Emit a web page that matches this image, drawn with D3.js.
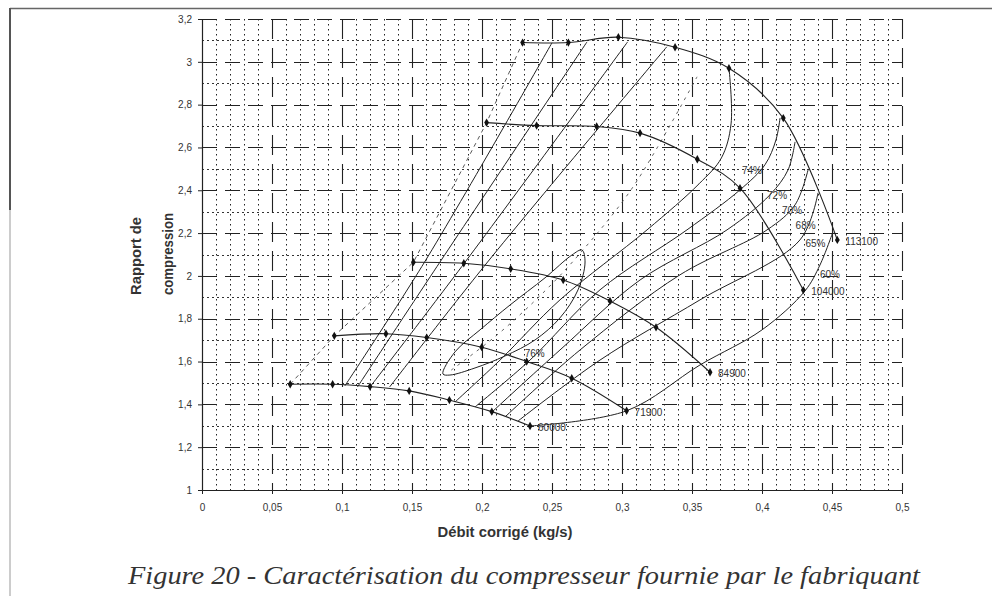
<!DOCTYPE html>
<meta charset="utf-8">
<script src="https://d3js.org/d3.v7.min.js"></script>
<style>
  body { margin: 0; background: #fff; }
  text { font-family: "Liberation Sans", Arial, sans-serif; fill: #333; }
</style>
<svg id="chart" width="992" height="596"></svg>
<script>
// ticks
const xTicks = [0, 0.05, 0.1, 0.15, 0.2, 0.25, 0.3, 0.35, 0.4, 0.45, 0.5];
const xTickLabels = ["0", "0,05", "0,1", "0,15", "0,2", "0,25", "0,3", "0,35", "0,4", "0,45", "0,5"];
const yTicks = [1, 1.2, 1.4, 1.6, 1.8, 2, 2.2, 2.4, 2.6, 2.8, 3, 3.2];
const yTickLabels = ["1", "1,2", "1,4", "1,6", "1,8", "2", "2,2", "2,4", "2,6", "2,8", "3", "3,2"];

// iso-speed lines [debit, rapport]
const speedNames = ["60000", "71900", "84900", "104000", "113100"];
const speed60000 = [[0.063, 1.494], [0.0933, 1.494], [0.12, 1.483], [0.148, 1.463], [0.1767, 1.42], [0.207, 1.366], [0.2343, 1.299]];
const speed71900 = [[0.0945, 1.72], [0.1314, 1.73], [0.1605, 1.712], [0.1998, 1.667], [0.2319, 1.6], [0.2641, 1.522], [0.3033, 1.37]];
const speed84900 = [[0.151, 2.064], [0.187, 2.059], [0.2205, 2.033], [0.258, 1.981], [0.2914, 1.883], [0.3243, 1.76], [0.3629, 1.55]];
const speed104000 = [[0.2033, 2.716], [0.239, 2.702], [0.2819, 2.698], [0.3129, 2.667], [0.3538, 2.545], [0.3843, 2.41], [0.4295, 1.934]];
const speed113100 = [[0.229, 3.09], [0.2617, 3.09], [0.2974, 3.115], [0.3379, 3.068], [0.3764, 2.97], [0.4152, 2.737], [0.4538, 2.168]];
const speedLines = [speed60000, speed71900, speed84900, speed104000, speed113100];

// surge line (dashed), through the first point of each speed line
const surge = [[0.063, 1.494], [0.0945, 1.72], [0.151, 2.064], [0.2033, 2.716], [0.229, 3.09]];
// dashed line through the best-efficiency island
const ridge = [[0.178, 1.56], [0.21, 1.72], [0.245, 1.93], [0.2721, 2.121], [0.3079, 2.416], [0.3536, 2.93]];

// efficiency contours
const eff76 = [[0.1721, 1.542], [0.1807, 1.645], [0.1986, 1.748], [0.22, 1.864], [0.245, 1.991], [0.2643, 2.098], [0.2714, 2.121],
  [0.2736, 2.065], [0.2686, 1.935], [0.2557, 1.804], [0.2379, 1.701], [0.2164, 1.626], [0.195, 1.57], [0.1771, 1.537]];
// left branches, from 60000 line up to 113100 line
const leftBranches = [
  [[0.102, 1.486], [0.159, 2.065], [0.25, 3.089]],
  [[0.111, 1.481], [0.17, 2.065], [0.275, 3.093]],
  [[0.12, 1.481], [0.188, 2.065], [0.304, 3.093]],
  [[0.134, 1.481], [0.204, 2.065], [0.332, 3.07]]
];
// right branches
const effNames = ["74%", "72%", "70%", "68%", "65%", "60%"];
const eff74 = [[0.1807, 1.411], [0.2129, 1.607], [0.2557, 1.888], [0.3179, 2.215], [0.355, 2.43], [0.371, 2.551], [0.3779, 2.71], [0.3764, 2.972]];
const eff72 = [[0.195, 1.388], [0.2343, 1.607], [0.2843, 1.935], [0.3464, 2.215], [0.3843, 2.402], [0.4021, 2.519], [0.41, 2.636], [0.4129, 2.738]];
const eff70 = [[0.2071, 1.364], [0.2557, 1.654], [0.3129, 1.981], [0.375, 2.215], [0.4057, 2.379], [0.4186, 2.495], [0.4236, 2.626]];
const eff68 = [[0.2164, 1.341], [0.27, 1.654], [0.3414, 2.005], [0.4036, 2.215], [0.4236, 2.332], [0.4329, 2.495]];
const eff65 = [[0.2257, 1.322], [0.2843, 1.607], [0.3557, 1.888], [0.4271, 2.168], [0.44, 2.388]];
const eff60 = [[0.2343, 1.299], [0.3033, 1.37], [0.3557, 1.584], [0.4, 1.748], [0.4307, 1.93], [0.4414, 2.051], [0.4507, 2.206]];
const rightBranches = [eff74, eff72, eff70, eff68, eff65, eff60];
// label anchor points for efficiencies
const effLabelPos = [[0.3857, 2.474], [0.4036, 2.36], [0.4143, 2.29], [0.424, 2.22], [0.431, 2.136], [0.4414, 1.99]];

const svg = d3.select("#chart");
const x = d3.scaleLinear().domain([0, 0.5]).range([202, 902]);
const y = d3.scaleLinear().domain([1, 3.2]).range([490, 19]);
const cx = d => Math.round(x(d)) + 0.5;
const cy = d => Math.round(y(d)) + 0.5;

// page frame
svg.append("line").attr("x1", 10).attr("x2", 992).attr("y1", 8.5).attr("y2", 8.5)
  .attr("stroke", "#666").attr("stroke-width", 1.5);
svg.append("line").attr("x1", 10).attr("x2", 10).attr("y1", 8).attr("y2", 210)
  .attr("stroke", "#555").attr("stroke-width", 2);
svg.append("line").attr("x1", 10).attr("x2", 10).attr("y1", 210).attr("y2", 596)
  .attr("stroke", "#999").attr("stroke-width", 1);

// grid
const grid = svg.append("g");
const minorX = d3.range(1, 50).filter(i => i % 5).map(i => i / 100);
const minorY = d3.range(11, 32, 2).map(i => i / 10);
grid.selectAll(".mx").data(minorX).join("line")
  .attr("x1", cx).attr("x2", cx).attr("y1", y(3.2)).attr("y2", y(1))
  .attr("stroke", "#222").attr("stroke-width", 1).attr("stroke-dasharray", "1.5,3.5");
grid.selectAll(".my").data(minorY).join("line")
  .attr("x1", x(0)).attr("x2", x(0.5)).attr("y1", cy).attr("y2", cy)
  .attr("stroke", "#333").attr("stroke-width", 1).attr("stroke-dasharray", "2,3");
grid.selectAll(".Mx").data(xTicks.slice(1)).join("line")
  .attr("x1", cx).attr("x2", cx).attr("y1", y(3.2)).attr("y2", y(1))
  .attr("stroke", "#222").attr("stroke-width", 1.1).attr("stroke-dasharray", "20,9");
grid.selectAll(".My").data(yTicks.slice(1)).join("line")
  .attr("x1", x(0)).attr("x2", x(0.5)).attr("y1", cy).attr("y2", cy)
  .attr("stroke", "#222").attr("stroke-width", 1.1).attr("stroke-dasharray", "15,8");

// axes
const xAxis = svg.append("g").attr("transform", `translate(0,${y(1)})`)
  .call(d3.axisBottom(x).tickValues(xTicks).tickFormat((d, i) => xTickLabels[i]).tickSize(4).tickSizeOuter(0).tickPadding(10));
const yAxis = svg.append("g").attr("transform", `translate(${x(0)},0)`)
  .call(d3.axisLeft(y).tickValues(yTicks).tickFormat((d, i) => yTickLabels[i]).tickSize(4).tickSizeOuter(0).tickPadding(6));
[xAxis, yAxis].forEach(a => {
  a.select(".domain").attr("stroke", "#222").attr("stroke-width", 1.2);
  a.selectAll(".tick line").attr("stroke", "#222");
  a.selectAll("text").style("font-size", "10px").attr("fill", "#444").style("font-family", "'Liberation Sans', Arial, sans-serif");
});

const line = d3.line().x(d => x(d[0])).y(d => y(d[1])).curve(d3.curveCatmullRom.alpha(0.5));
const plot = svg.append("g");

// surge line and ridge line
plot.append("path").attr("d", d3.line().x(d => x(d[0])).y(d => y(d[1]))(surge))
  .attr("fill", "none").attr("stroke", "#444").attr("stroke-width", 0.9).attr("stroke-dasharray", "4,4");
plot.append("path").attr("d", line(ridge))
  .attr("fill", "none").attr("stroke", "#555").attr("stroke-width", 0.9).attr("stroke-dasharray", "3,5");

// efficiency contours
plot.append("path").attr("d", d3.line().x(d => x(d[0])).y(d => y(d[1])).curve(d3.curveCatmullRomClosed)(eff76))
  .attr("fill", "none").attr("stroke", "#222").attr("stroke-width", 1);
plot.selectAll(".lb").data(leftBranches).join("path").attr("d", line)
  .attr("fill", "none").attr("stroke", "#222").attr("stroke-width", 1);
plot.selectAll(".rb").data(rightBranches).join("path").attr("d", line)
  .attr("fill", "none").attr("stroke", "#222").attr("stroke-width", 1);

// speed lines
plot.selectAll(".sp").data(speedLines).join("path").attr("d", line)
  .attr("fill", "none").attr("stroke", "#222").attr("stroke-width", 1.1);
speedLines.forEach(s => {
  plot.selectAll(null).data(s).join("path")
    .attr("d", d3.symbol(d3.symbolDiamond, 20))
    .attr("transform", d => `translate(${x(d[0])},${y(d[1])})`)
    .attr("fill", "#111");
});
plot.selectAll(".sl").data(speedLines).join("text")
  .attr("x", d => x(d[d.length - 1][0]) + 8)
  .attr("y", d => y(d[d.length - 1][1]) + 5)
  .text((d, i) => speedNames[i])
  .style("font-size", "10px").attr("fill", "#444");

// efficiency labels
plot.selectAll(".el").data(effLabelPos).join("text")
  .attr("x", d => x(d[0])).attr("y", d => y(d[1]))
  .text((d, i) => effNames[i])
  .style("font-size", "10px").attr("fill", "#444");
plot.append("text").attr("x", x(0.2305)).attr("y", y(1.62)).text("76%")
  .style("font-size", "10px").attr("fill", "#444");

// axis titles
svg.append("text").attr("x", 505).attr("y", 537).attr("text-anchor", "middle")
  .attr("textLength", 135).attr("lengthAdjust", "spacingAndGlyphs")
  .style("font-size", "14px").style("font-weight", "bold").attr("fill", "#111")
  .text("Débit corrigé (kg/s)");
const yt = svg.append("g").attr("transform", "translate(141,295) rotate(-90)");
yt.append("text").attr("x", 0).attr("y", 0).attr("textLength", 78).attr("lengthAdjust", "spacingAndGlyphs")
  .style("font-size", "14px").style("font-weight", "bold").attr("fill", "#111").text("Rapport de");
yt.append("text").attr("x", 0).attr("y", 32).attr("textLength", 82).attr("lengthAdjust", "spacingAndGlyphs")
  .style("font-size", "14px").style("font-weight", "bold").attr("fill", "#111").text("compression");

// caption
svg.append("text").attr("x", 128).attr("y", 584)
  .attr("textLength", 792).attr("lengthAdjust", "spacingAndGlyphs")
  .style("font-family", "'Liberation Serif', 'Times New Roman', serif").style("font-style", "italic")
  .style("font-size", "26px").attr("fill", "#222")
  .text("Figure 20 - Caractérisation du compresseur fournie par le fabriquant");
</script>
